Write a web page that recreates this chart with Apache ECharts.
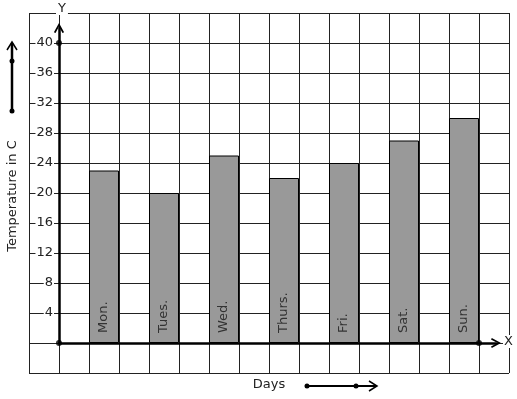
<!DOCTYPE html>
<html>
<head>
<meta charset="utf-8">
<script src="https://cdn.jsdelivr.net/npm/echarts@6/dist/echarts.min.js"></script>
<style>
html,body{margin:0;padding:0;background:#fff;}
#chart{width:517px;height:399px;}
</style>
</head>
<body>
<div id="chart"></div>
<script>
const days = ['Mon.', 'Tues.', 'Wed.', 'Thurs.', 'Fri.', 'Sat.', 'Sun.'];
const temperatures = [23, 20, 25, 22, 24, 27, 30];
const yTicks = [4, 8, 12, 16, 20, 24, 28, 32, 36, 40];
const axisDots = [[0, 0], [0, 40], [14, 0]];

const FONT = 'DejaVu Sans';
const chevron = 'path://M0,9 L5,0 L10,9 L8.4,9.8 L5,3.4 L1.6,9.8 Z';

const chart = echarts.init(document.getElementById('chart'), null, {renderer: 'canvas'});
chart.setOption({
  backgroundColor: '#fff',
  animation: false,
  grid: [
    {left: 29, top: 13, width: 480, height: 360},   // background graph paper
    {left: 74, right: 23, top: 43, bottom: 56},     // bars
    {left: 59, right: 21, top: 28, bottom: 56}      // axes with arrows
  ],
  xAxis: [
    {gridIndex: 0, type: 'value', min: -1, max: 15, interval: 1,
     axisLine: {show: false}, axisTick: {show: false}, axisLabel: {show: false},
     splitLine: {show: true, lineStyle: {color: '#222', width: 1}}},
    {gridIndex: 1, type: 'category', data: days, show: false},
    {gridIndex: 2, type: 'value', min: 0, max: 1,
     axisLine: {show: true, onZero: false, symbol: ['none', chevron], symbolSize: [11, 10],
                lineStyle: {color: '#000', width: 2.5}},
     axisTick: {show: false}, axisLabel: {show: false}, splitLine: {show: false}}
  ],
  yAxis: [
    {gridIndex: 0, type: 'value', min: -4, max: 44, interval: 4,
     axisLine: {show: false}, axisTick: {show: false},
     axisLabel: {show: true, inside: true, margin: 25, align: 'right',
                 fontFamily: FONT, fontSize: 13, color: '#222',
                 backgroundColor: '#fff', padding: [0, 1, 0, 1],
                 formatter: v => yTicks.indexOf(v) >= 0 ? String(v) : ''},
     splitLine: {show: true, lineStyle: {color: '#222', width: 1}}},
    {gridIndex: 1, type: 'value', min: 0, max: 40, show: false},
    {gridIndex: 2, type: 'value', min: 0, max: 1,
     axisLine: {show: true, onZero: false, symbol: ['none', chevron], symbolSize: [11, 10],
                lineStyle: {color: '#000', width: 2.5}},
     axisTick: {show: false}, axisLabel: {show: false}, splitLine: {show: false}}
  ],
  series: [
    {type: 'bar', xAxisIndex: 1, yAxisIndex: 1, data: temperatures, barWidth: 30,
     itemStyle: {color: '#999999', borderColor: '#000', borderWidth: 1},
     label: {show: true, position: 'insideBottom', rotate: 90, align: 'left', verticalAlign: 'middle',
             distance: 10, fontFamily: FONT, fontSize: 13, color: '#333',
             formatter: p => days[p.dataIndex]},
     z: 3},
    {type: 'scatter', xAxisIndex: 0, yAxisIndex: 0, data: axisDots, symbolSize: 6,
     itemStyle: {color: '#000'}, z: 5}
  ],
  graphic: [
    {type: 'text', left: 56, top: 2, z: 10,
     style: {text: 'Y', font: '13px "DejaVu Sans"', fill: '#222', backgroundColor: '#fff', padding: [0, 2]}},
    {type: 'text', left: 503, top: 335, z: 10,
     style: {text: 'X', font: '13px "DejaVu Sans"', fill: '#222', backgroundColor: '#fff', padding: [0, 1]}},
    {type: 'text', x: 13, y: 196, rotation: Math.PI / 2, z: 10,
     style: {text: 'Temperature in C', font: '13px "DejaVu Sans"', fill: '#222', align: 'center', verticalAlign: 'middle'}},
    {type: 'text', x: 269, y: 385, z: 10,
     style: {text: 'Days', font: '13px "DejaVu Sans"', fill: '#222', align: 'center', verticalAlign: 'middle'}},
    // left decorative arrow
    {type: 'line', shape: {x1: 12, y1: 111, x2: 12, y2: 43}, style: {stroke: '#000', lineWidth: 2.5}},
    {type: 'polyline', shape: {points: [[7, 50], [12, 42], [17, 50]]}, style: {stroke: '#000', lineWidth: 1.5, fill: null}},
    {type: 'circle', shape: {cx: 12, cy: 61, r: 2.5}, style: {fill: '#000'}},
    {type: 'circle', shape: {cx: 12, cy: 111, r: 2.5}, style: {fill: '#000'}},
    // bottom decorative arrow
    {type: 'line', shape: {x1: 307, y1: 386, x2: 376, y2: 386}, style: {stroke: '#000', lineWidth: 2}},
    {type: 'polyline', shape: {points: [[369, 381], [377, 386], [369, 391]]}, style: {stroke: '#000', lineWidth: 1.5, fill: null}},
    {type: 'circle', shape: {cx: 307, cy: 386, r: 2.5}, style: {fill: '#000'}},
    {type: 'circle', shape: {cx: 356, cy: 386, r: 2.5}, style: {fill: '#000'}}
  ]
});
</script>
</body>
</html>
